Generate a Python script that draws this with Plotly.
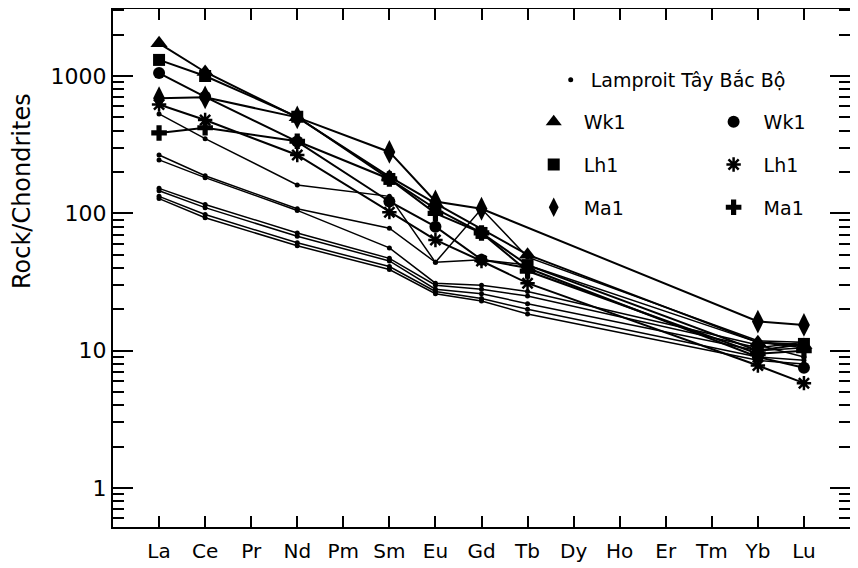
import plotly.graph_objects as go

elements = ["La", "Ce", "Pr", "Nd", "Pm", "Sm", "Eu", "Gd", "Tb", "Dy", "Ho", "Er", "Tm", "Yb", "Lu"]

# Marked samples (None = not analysed)
wk1_triangle = [1730, 1070, None, 500, None, 185, 118, None, 50, None, None, None, None, 11.5, 11.0]
lh1_square   = [1310, 1000, None, 505, None, 178, 108, 72, 42, None, None, None, None, 10.0, 11.2]
ma1_diamond  = [690, 700, None, 500, None, 280, 122, 108, None, None, None, None, None, 16.3, 15.4]
wk1_circle   = [1050, 705, None, 333, None, 122, 80, 46, 40, None, None, None, None, 9.0, 7.5]
lh1_asterisk = [620, 478, None, 266, None, 102, 64, 45, 31, None, None, None, None, 7.8, 5.8]
ma1_cross    = [385, 420, None, 335, None, 178, 100, 72, 38, None, None, None, None, 9.5, 10.0]

# Lamproit Tây Bắc Bộ samples
lamp_1 = [530, 350, None, 161, None, 133, 44, 108, 48, None, None, None, None, 11.8, 11.5]
lamp_2 = [266, 188, None, 108, None, 78, 44, 46, 42, None, None, None, None, 11.5, 10.5]
lamp_3 = [245, 182, None, 105, None, 56, 31, 30, 27, None, None, None, None, 11.0, 9.0]
lamp_4 = [152, 116, None, 72, None, 47, 30, 28, 25, None, None, None, None, 10.5, 11.5]
lamp_5 = [146, 110, None, 68, None, 45, 28, 26, 22, None, None, None, None, 10.0, 10.5]
lamp_6 = [133, 98, None, 61, None, 41, 27, 24, 20, None, None, None, None, 9.0, 8.5]
lamp_7 = [128, 93, None, 58, None, 39, 26, 23, 18.5, None, None, None, None, 8.5, 8.0]

lamp_series = [lamp_1, lamp_2, lamp_3, lamp_4, lamp_5, lamp_6, lamp_7]
marked_series = [
    ("Wk1", wk1_triangle, "triangle-up", 15, "legend2"),
    ("Lh1", lh1_square, "square", 12, "legend2"),
    ("Ma1", ma1_diamond, "diamond-tall", 17, "legend2"),
    ("Wk1", wk1_circle, "circle", 12, "legend3"),
    ("Lh1", lh1_asterisk, "asterisk-open", 12, "legend3"),
    ("Ma1", ma1_cross, "cross", 13, "legend3"),
]

y_major = [1, 10, 100, 1000]
y_minor = [0.6, 0.7, 0.8, 0.9] + [m * d for d in (1, 10, 100) for m in range(2, 10)] + [2000, 3000]

FONT = "DejaVu Sans"
xs = list(range(len(elements)))

fig = go.Figure()

for vals in lamp_series:
    fig.add_trace(go.Scatter(
        x=xs, y=vals, mode="lines+markers", connectgaps=True,
        line=dict(color="black", width=1.5),
        marker=dict(symbol="circle", size=5, color="black"),
        showlegend=False, hoverinfo="skip"))

for name, vals, sym, size, lg in marked_series:
    mk = dict(symbol=sym, size=size, color="black")
    if sym == "asterisk-open":
        mk["line"] = dict(color="black", width=2.5)
    fig.add_trace(go.Scatter(
        x=xs, y=vals, mode="lines+markers", connectgaps=True,
        line=dict(color="black", width=2),
        marker=mk, showlegend=False))

# legend entries (markers only)
fig.add_trace(go.Scatter(
    x=[None], y=[None], mode="markers", name="Lamproit Tây Bắc Bộ",
    marker=dict(symbol="circle", size=5, color="black"), legend="legend"))
for i, (name, vals, sym, size, lg) in enumerate(marked_series):
    mk = dict(symbol=sym, size=min(size, 14), color="black")
    if sym == "asterisk-open":
        mk["line"] = dict(color="black", width=2.5)
    fig.add_trace(go.Scatter(
        x=[None], y=[None], mode="markers", name=name, marker=mk,
        legend=lg, legendgroup="g%d" % i))

# page body has an 8px margin: figure is offset by (8, 8) in the window
OFF = 8
FIG_W, FIG_H = 858 - OFF, 568 - OFF
# plot-area edges in window pixels
L, R, T, B = 113, 850.5, 9, 527
W = R - L
H = B - T

def px_x(p):
    return (p - L) / W

def px_y(p):
    return 1 - (p - T) / H

legend_common = dict(font=dict(family=FONT, size=19, color="black"),
                     bgcolor="rgba(0,0,0,0)", borderwidth=0,
                     xanchor="left", yanchor="middle", tracegroupgap=15)

fig.update_layout(
    width=FIG_W, height=FIG_H,
    margin=dict(l=L - OFF, r=FIG_W - (R - OFF), t=T - OFF, b=FIG_H - (B - OFF),
                autoexpand=False),
    paper_bgcolor="white", plot_bgcolor="white",
    font=dict(family=FONT, color="black"),
    legend=dict(x=px_x(551), y=px_y(80), itemwidth=30, **legend_common),
    legend2=dict(x=px_x(524), y=px_y(165), itemwidth=50, **legend_common),
    legend3=dict(x=px_x(704), y=px_y(165), itemwidth=50, **legend_common),
    xaxis=dict(
        range=[-1, 15], tickvals=xs, ticktext=elements,
        ticks="inside", ticklen=11, tickwidth=2, tickcolor="black",
        showline=True, linewidth=2, linecolor="black", mirror="ticks",
        showgrid=False, zeroline=False, automargin=False,
        tickfont=dict(family=FONT, size=20, color="black"),
        ticklabelstandoff=5),
    yaxis=dict(
        type="log", range=[-0.284, 3.488], tickvals=y_major,
        ticktext=[str(v) for v in y_major],
        ticks="inside", ticklen=20, tickwidth=2, tickcolor="black",
        minor=dict(tickvals=y_minor, ticks="inside", ticklen=11, tickwidth=2,
                   tickcolor="black", showgrid=False),
        showline=True, linewidth=2, linecolor="black", mirror="ticks",
        showgrid=False, zeroline=False, automargin=False,
        tickfont=dict(family=FONT, size=22, color="black")),
    annotations=[dict(
        text="Rock/Chondrites", textangle=-90, xref="paper", yref="paper",
        x=px_x(22), y=px_y(191), xanchor="center", yanchor="middle",
        showarrow=False, font=dict(family=FONT, size=24, color="black"))],
)

fig.write_html("out.html")
